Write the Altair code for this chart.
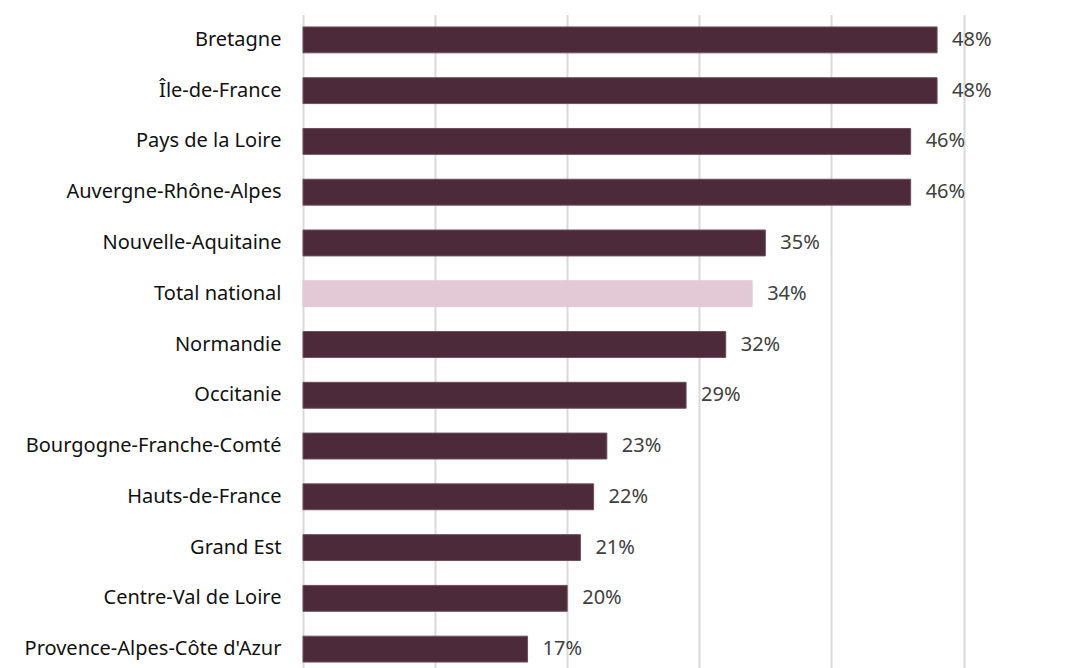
import altair as alt
import pandas as pd

regions = [
    "Bretagne", "Île-de-France", "Pays de la Loire", "Auvergne-Rhône-Alpes",
    "Nouvelle-Aquitaine", "Total national", "Normandie", "Occitanie",
    "Bourgogne-Franche-Comté", "Hauts-de-France", "Grand Est",
    "Centre-Val de Loire", "Provence-Alpes-Côte d'Azur",
]
values = [48, 48, 46, 46, 35, 34, 32, 29, 23, 22, 21, 20, 17]
kinds = ["region"] * 5 + ["total"] + ["region"] * 7

df = pd.DataFrame({"region": regions, "value": values, "kind": kinds})
df["label"] = df["value"].astype(str) + "%"

FONT = "Noto Sans"

y_enc = alt.Y("region:N", sort=regions, title=None,
              scale=alt.Scale(paddingInner=0.49, paddingOuter=0.245),
              axis=alt.Axis(labelFont=FONT, labelFontSize=20,
                            labelColor="#111111", labelPadding=22,
                            labelLimit=400,
                            ticks=False, domain=False, grid=False))
x_enc = alt.X("value:Q", scale=alt.Scale(domain=[0, 50], nice=False),
              title=None,
              axis=alt.Axis(values=[0, 10, 20, 30, 40, 50], labels=False,
                            ticks=False, domain=False, grid=True,
                            gridColor="#D9D9D9", gridWidth=2))

bars = alt.Chart(df).mark_bar(strokeWidth=1).encode(
    y=y_enc, x=x_enc,
    color=alt.Color("kind:N", scale=alt.Scale(domain=["region", "total"],
                    range=["#4D2A3A", "#E3C8D6"]), legend=None),
    stroke=alt.Color("kind:N", scale=alt.Scale(domain=["region", "total"],
                    range=["#6E4E5D", "#E3C8D6"]), legend=None),
)

labels = alt.Chart(df).mark_text(align="left", baseline="middle", dx=15,
                                 font=FONT, fontSize=20,
                                 color="#404040").encode(
    y=alt.Y("region:N", sort=regions), x="value:Q", text="label:N")

chart = (bars + labels).properties(
    width=660.5, height=660,
    padding={"left": 303, "top": 14.5, "right": 117, "bottom": 0},
    autosize=alt.AutoSizeParams(type="none"),
).configure_view(stroke=None, clip=False)

chart.save("out.html", embed_options={"renderer": "svg", "actions": False})
